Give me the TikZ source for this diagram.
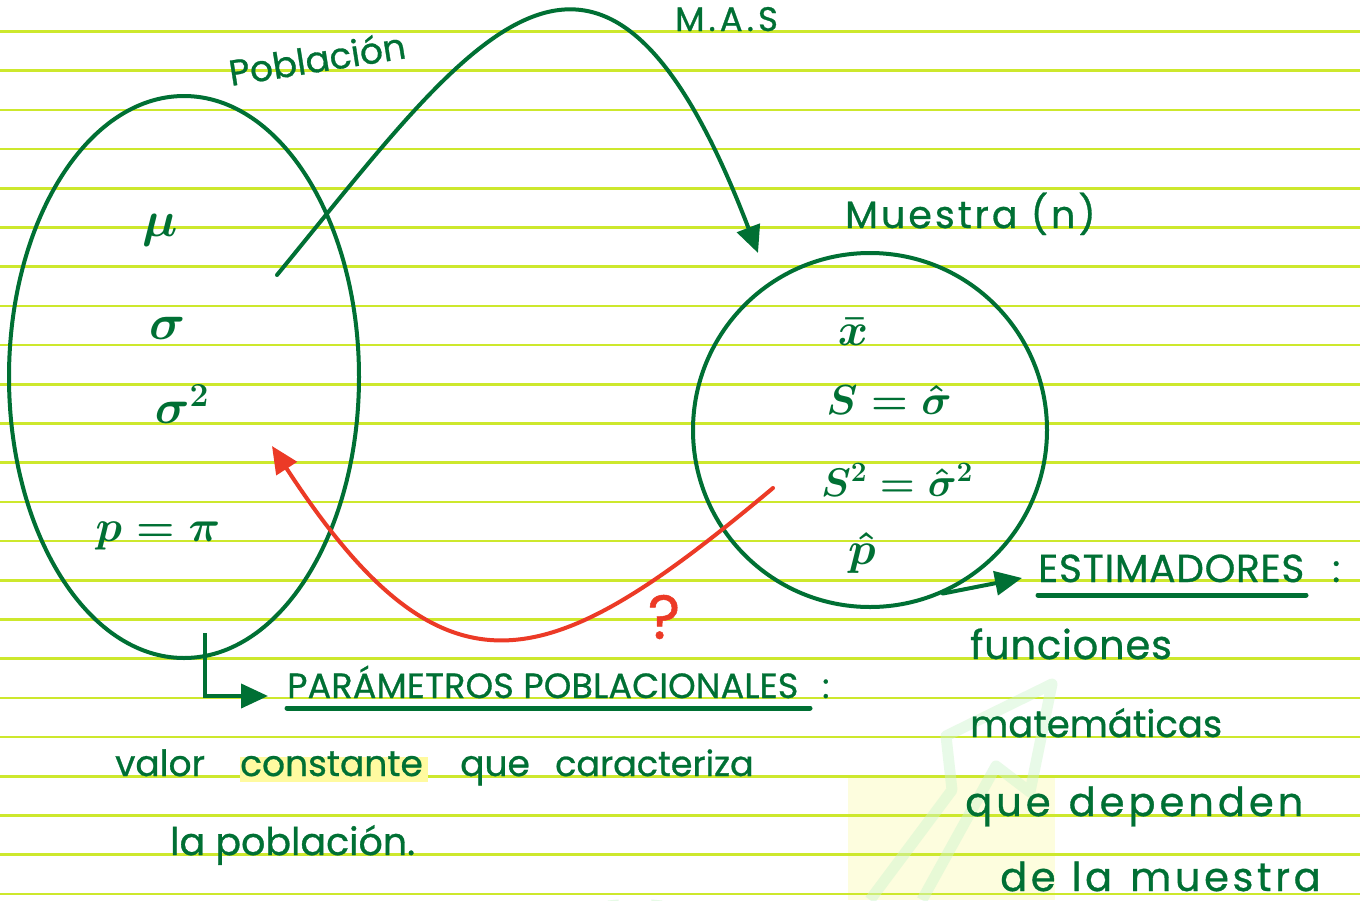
\documentclass[tikz,border=0pt]{standalone}
\usepackage{fix-cm}
\usepackage{fontspec}
\setmainfont{Poppins}
\newfontfamily\handf{Poppins}[FakeBold=0.8]
\usetikzlibrary{arrows.meta,shapes.geometric}
\definecolor{ink}{RGB}{0,112,52}
\definecolor{redink}{RGB}{236,58,38}
\definecolor{rulec}{RGB}{205,232,45}
\definecolor{hl}{RGB}{255,250,160}
\definecolor{wmy}{RGB}{253,253,222}
\definecolor{wmg}{RGB}{205,245,205}
\begin{document}
\begin{tikzpicture}[x=1pt,y=-1pt,
  hand/.style={text=ink, inner sep=0pt, anchor=base west},
  fs/.style={font=\handf\fontsize{#1}{#1}\selectfont},
  mth/.style={text=ink, inner sep=0pt, font=\fontsize{#1}{#1}\selectfont\boldmath},
  inkline/.style={draw=ink, line width=4pt, line cap=round},
  tipg/.style={-{Triangle[length=27pt,width=24pt]}},
  uline/.style={draw=ink, line width=5pt, line cap=round}]
\useasboundingbox (0,0) rectangle (1360,900);
\fill[white] (0,0) rectangle (1360,900);
% faint watermark
\fill[wmy] (848,778) rectangle (1055,900);
% ruled lines
\foreach \k in {0,...,22}
  \draw[rulec, line width=2.5pt] (0,31.5+39.2*\k) -- (1360,31.5+39.2*\k);
\draw[wmg, line width=11pt, opacity=0.45, line join=round]
  (870,900) -- (952,790) -- (946,736) -- (1052,684) -- (1030,792) -- (996,766) -- (922,900);
\draw[wmg, line width=11pt, opacity=0.5] (613,900) arc[start angle=180, end angle=0, radius=22];

% shapes
\node[draw=ink, line width=4pt, ellipse, minimum width=350pt, minimum height=562pt, inner sep=0pt] (pob) at (184,377) {};
\node[draw=ink, line width=4pt, circle, minimum size=354pt, inner sep=0pt] (mue) at (870,430) {};

% labels
\node[hand, fs=36, rotate=9] (tpob) at (231,86) {Población};
\node[hand, fs=34] (tmas) at (675,31) {\addfontfeature{LetterSpace=12}M.A.S};
\node[hand, fs=38] (tmue) at (845,228) {\addfontfeature{LetterSpace=8}Muestra (n)};

% population parameters
\node[mth=50] (mu) at (160,230) {$\mu$};
\node[mth=50] (sig) at (168,328) {$\sigma$};
\node[mth=48] (sig2) at (182,404) {$\sigma^2$};
\node[mth=44] (ppi) at (158,536) {$p=\pi$};

% estimators
\node[mth=46] (xbar) at (853,332) {$\bar{x}$};
\node[mth=42] (shat) at (889,400) {$S=\hat{\sigma}$};
\node[mth=40] (s2hat) at (897,480) {$S^2=\hat{\sigma}^2$};
\node[mth=46] (phat) at (862,553) {$\hat{p}$};

% connectors
\coordinate (masA) at (277,275);
\coordinate (masB) at (758,253);
\draw[inkline, tipg] (masA) .. controls (470,40) and (600,-160) .. (masB);

\coordinate (redA) at (773,488);
\coordinate (redB) at (272,446);
\draw[draw=redink, line width=4pt, line cap=round, -{Triangle[length=27pt,width=24pt]}, redink]
  (redA) .. controls (551,674) and (447,715) .. (redB);
\node[text=redink, inner sep=0pt, font=\handf\fontsize{62}{62}\selectfont] (q) at (664,617) {?};

\coordinate (pbot) at (205,633);
\coordinate (ptip) at (268,696);
\draw[inkline, line cap=butt, tipg] (pbot) |- (ptip);

\coordinate (etip) at (1022,578);
\draw[inkline, tipg] (mue.-66) -- (etip);

% headings
\node[hand, fs=35] (par) at (287,698) {\addfontfeature{LetterSpace=0.5}PARÁMETROS POBLACIONALES};
\node[hand, fs=34] (parc) at (822,698) {:};
\draw[uline] (287,708) -- (810,708);

\node[hand, fs=39] (est) at (1038,582) {\addfontfeature{LetterSpace=2}ESTIMADORES};
\node[hand, fs=38] (estc) at (1332,582) {:};
\draw[uline] (1038,595) -- (1306,595);

% definition texts
\fill[hl] (240,757) rectangle (428,782);
\node[hand, fs=36] (t1a) at (115,776) {valor};
\node[hand, fs=36] (t1b) at (240,776) {constante};
\node[hand, fs=36] (t1c) at (460,776) {que};
\node[hand, fs=35] (t1d) at (555,776) {caracteriza};
\node[hand, fs=38] (t2) at (170,855) {la población.};

\node[hand, fs=40] (f1) at (970,659) {\addfontfeature{LetterSpace=2}funciones};
\node[hand, fs=37] (f2) at (970,737) {matemáticas};
\node[hand, fs=40] (f3) at (965,816) {\addfontfeature{LetterSpace=10}que\hspace{18pt}dependen};
\node[hand, fs=40] (f4) at (1000,891) {\addfontfeature{LetterSpace=9}de\hspace{16pt}la\hspace{18pt}muestra};
\end{tikzpicture}
\end{document}
